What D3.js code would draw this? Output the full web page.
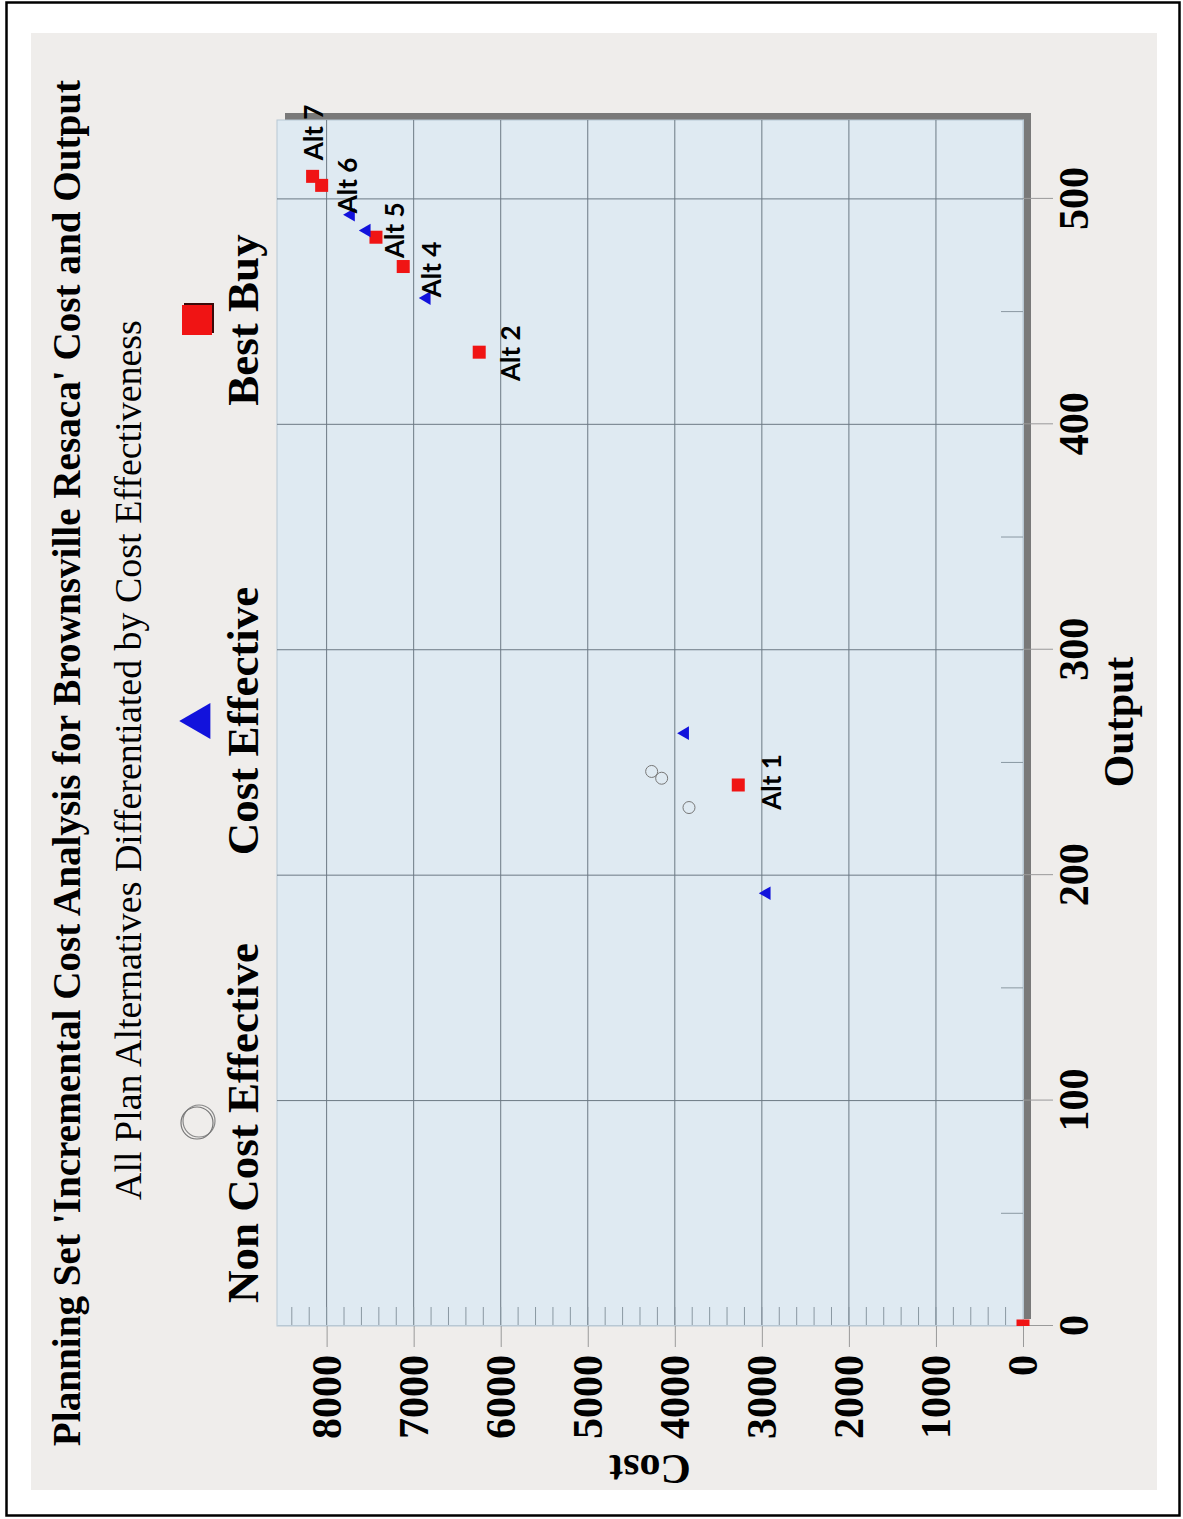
<!DOCTYPE html>
<html>
<head>
<meta charset="utf-8">
<script src="https://cdn.jsdelivr.net/npm/d3@7"></script>
<style>
    body { margin: 0; background: #fff; }
    svg { display: block; }
</style>
</head>
<body>
<div id="chart"></div>
<script>
// values
const outputs = [0, 192, 240, 230, 243, 246, 263, 432, 456, 470, 483, 486, 493, 506, 510];
const costs = [0, 2945, 3271, 3837, 4151, 4266, 3883, 6247, 6851, 7120, 7433, 7540, 7721, 8057, 8161];
const classes = ["best", "ce", "best", "nce", "nce", "nce", "ce", "best", "ce", "best", "best", "ce", "ce", "best", "best"];
const altLabels = ["", "", "Alt 1", "", "", "", "", "Alt 2", "", "Alt 4", "Alt 5", "", "", "Alt 6", "Alt 7"];

const legendKeys = ["nce", "ce", "best"];
const legendNames = ["Non Cost Effective", "Cost Effective", "Best Buy"];

const costTicks = [0, 1000, 2000, 3000, 4000, 5000, 6000, 7000, 8000];
const outputTicks = [0, 100, 200, 300, 400, 500];

const titleText = "Planning Set 'Incremental Cost Analysis for Brownsville Resaca' Cost and Output";
const subtitleText = "All Plan Alternatives Differentiated by Cost Effectiveness";

// label nudges (landscape px) for each labelled point
const labelNudge = {"Alt 1": [3, 33], "Alt 2": [-1, 31], "Alt 4": [-3, 28], "Alt 5": [7, 19], "Alt 6": [0, 26], "Alt 7": [44, 1]};

const W = 1183, H = 1519;
const serif = "'Liberation Serif', 'Times New Roman', serif";

const svg = d3.select("#chart").append("svg")
    .attr("width", W)
    .attr("height", H);

// page frame and panel
svg.append("rect").attr("x", 6.5).attr("y", 2.5).attr("width", 1173).attr("height", 1513)
    .attr("fill", "#fff").attr("stroke", "#000").attr("stroke-width", 2.5);
svg.append("rect").attr("x", 31).attr("y", 33).attr("width", 1126).attr("height", 1457)
    .attr("fill", "#efedeb");

// the chart is drawn landscape, then turned a quarter left
const g = svg.append("g")
    .attr("transform", `translate(0,${H}) rotate(-90)`);

const plot = {left: 193, right: 1399, top: 277, bottom: 1023};

const x = d3.scaleLinear().domain([0, 535]).range([plot.left, plot.right]);
const y = d3.scaleLinear().domain([0, 8570]).range([plot.bottom, plot.top]);

// shadow + plot area
g.append("rect")
    .attr("x", plot.left + 7).attr("y", plot.top + 8)
    .attr("width", plot.right - plot.left).attr("height", plot.bottom - plot.top)
    .attr("fill", "#797979");
g.append("rect")
    .attr("x", plot.left).attr("y", plot.top)
    .attr("width", plot.right - plot.left).attr("height", plot.bottom - plot.top)
    .attr("fill", "#dfeaf2")
    .attr("stroke", "#b8c8d4");

// grid
g.append("g").selectAll("line").data(costTicks.slice(1)).join("line")
    .attr("x1", plot.left).attr("x2", plot.right)
    .attr("y1", d => y(d)).attr("y2", d => y(d))
    .attr("stroke", "#6c7984").attr("stroke-width", 1);
g.append("g").selectAll("line").data(outputTicks.slice(1)).join("line")
    .attr("x1", d => x(d)).attr("x2", d => x(d))
    .attr("y1", plot.top).attr("y2", plot.bottom)
    .attr("stroke", "#6c7984").attr("stroke-width", 1);

// minor ticks, drawn inward
g.append("g").selectAll("line").data(d3.range(200, 8570, 200)).join("line")
    .attr("x1", plot.left).attr("x2", plot.left + 19)
    .attr("y1", d => y(d)).attr("y2", d => y(d))
    .attr("stroke", "#8a98a2");
g.append("g").selectAll("line").data(d3.range(50, 535, 100)).join("line")
    .attr("x1", d => x(d)).attr("x2", d => x(d))
    .attr("y1", plot.bottom).attr("y2", plot.bottom - 22)
    .attr("stroke", "#8a98a2");

// axes
const yAxis = g.append("g")
    .attr("transform", `translate(${plot.left},0)`)
    .call(d3.axisLeft(y).tickValues(costTicks).tickFormat(d3.format("d"))
        .tickSizeInner(21).tickSizeOuter(0).tickPadding(8));
const xAxis = g.append("g")
    .attr("transform", `translate(0,${plot.bottom})`)
    .call(d3.axisBottom(x).tickValues(outputTicks).tickFormat(d3.format("d"))
        .tickSizeInner(30).tickSizeOuter(0).tickPadding(5));

[xAxis, yAxis].forEach(a => {
    a.select(".domain").attr("stroke", "#b8c8d4");
    a.selectAll(".tick line").attr("stroke", "#9a9a9a");
    a.selectAll(".tick text")
        .attr("font-family", serif)
        .attr("font-weight", "bold")
        .attr("font-size", 42)
        .attr("fill", "#000");
});

// points
svg.append("defs").append("clipPath").attr("id", "plot-clip")
    .append("rect")
    .attr("x", plot.left).attr("y", plot.top - 10)
    .attr("width", plot.right - plot.left).attr("height", plot.bottom - plot.top + 20);

const points = outputs.map((o, i) => ({output: o, cost: costs[i], cls: classes[i], label: altLabels[i]}));
const pts = g.append("g").attr("clip-path", "url(#plot-clip)");

const sq = 13;
pts.selectAll("rect").data(points.filter(d => d.cls === "best")).join("rect")
    .attr("x", d => x(d.output) - sq / 2)
    .attr("y", d => y(d.cost) - sq / 2)
    .attr("width", sq).attr("height", sq)
    .attr("fill", "#f01414");

pts.selectAll("path").data(points.filter(d => d.cls === "ce")).join("path")
    .attr("d", d3.symbol(d3.symbolTriangle, 80))
    .attr("transform", d => `translate(${x(d.output)},${y(d.cost)})`)
    .attr("fill", "#1212dc");

pts.selectAll("circle").data(points.filter(d => d.cls === "nce")).join("circle")
    .attr("cx", d => x(d.output))
    .attr("cy", d => y(d.cost))
    .attr("r", 6)
    .attr("fill", "none")
    .attr("stroke", "#777")
    .attr("stroke-width", 1);

// Alt labels
g.append("g").selectAll("text").data(points.filter(d => d.label)).join("text")
    .attr("x", d => x(d.output) + labelNudge[d.label][0])
    .attr("y", d => y(d.cost) + labelNudge[d.label][1])
    .attr("dy", "0.36em")
    .attr("text-anchor", "middle")
    .attr("font-family", "Lato, 'Open Sans', sans-serif")
    .attr("font-weight", "bold")
    .attr("font-size", 26)
    .text(d => d.label);

// legend
const legendX = [396, 798, 1199];
const legend = g.append("g");
legendKeys.forEach((k, i) => {
    const lx = legendX[i], ly = 197;
    if (k === "nce") {
        legend.append("circle").attr("cx", lx + 2).attr("cy", ly + 2).attr("r", 16)
            .attr("fill", "none").attr("stroke", "#888").attr("stroke-width", 1.2);
        legend.append("circle").attr("cx", lx).attr("cy", ly).attr("r", 16)
            .attr("fill", "none").attr("stroke", "#777").attr("stroke-width", 1.2);
    } else if (k === "ce") {
        legend.append("path")
            .attr("d", d3.symbol(d3.symbolTriangle, 560))
            .attr("transform", `translate(${lx},${ly + 3})`)
            .attr("fill", "#1212dc");
    } else {
        legend.append("rect").attr("x", lx - 13).attr("y", ly - 13).attr("width", 30).attr("height", 30)
            .attr("fill", "#3a0a0a");
        legend.append("rect").attr("x", lx - 15).attr("y", ly - 15).attr("width", 30).attr("height", 30)
            .attr("fill", "#f01414");
    }
    legend.append("text")
        .attr("x", lx)
        .attr("y", 258)
        .attr("text-anchor", "middle")
        .attr("font-family", serif)
        .attr("font-weight", "bold")
        .attr("font-size", 45)
        .text(legendNames[i]);
});

// fit a text to a measured length
function fitText(sel, target) {
    const len = sel.node().getComputedTextLength();
    const fs = parseFloat(sel.attr("font-size"));
    sel.attr("font-size", fs * target / len);
}

const title = g.append("text")
    .attr("x", 756).attr("y", 80)
    .attr("text-anchor", "middle")
    .attr("font-family", serif)
    .attr("font-weight", "bold")
    .attr("font-size", 38)
    .text(titleText);
fitText(title, 1367);

const subtitle = g.append("text")
    .attr("x", 759).attr("y", 141)
    .attr("text-anchor", "middle")
    .attr("font-family", serif)
    .attr("font-size", 34)
    .text(subtitleText);
fitText(subtitle, 880);

// axis titles
g.append("text")
    .attr("transform", "translate(64,650) rotate(-90)")
    .attr("text-anchor", "middle")
    .attr("font-family", serif)
    .attr("font-weight", "bold")
    .attr("font-size", 42)
    .text("Cost");

g.append("text")
    .attr("x", 797).attr("y", 1133)
    .attr("text-anchor", "middle")
    .attr("font-family", serif)
    .attr("font-weight", "bold")
    .attr("font-size", 42)
    .text("Output");
</script>
</body>
</html>
